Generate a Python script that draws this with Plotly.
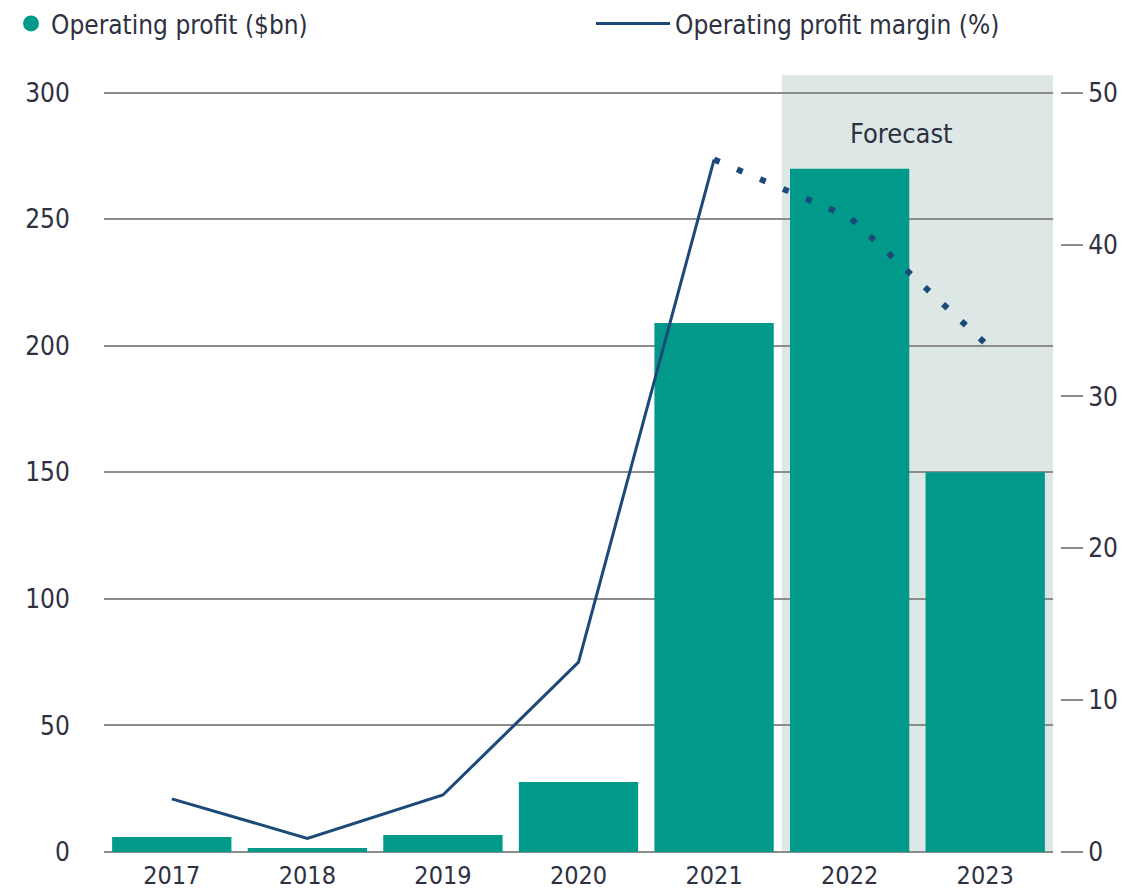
import plotly.graph_objects as go

years = ["2017", "2018", "2019", "2020", "2021", "2022", "2023"]
profit_bn = [5.9, 1.6, 6.7, 27.7, 209, 270, 150]
margin_actual_years = ["2017", "2018", "2019", "2020", "2021"]
margin_actual = [3.5, 0.9, 3.75, 12.5, 45.6]
margin_forecast_years = ["2021", "2022", "2023"]
margin_forecast = [45.6, 41.8, 33.5]
left_ticks = [0, 50, 100, 150, 200, 250, 300]
right_ticks = [0, 10, 20, 30, 40, 50]

TEAL = "#00998a"
NAVY = "#1b4a78"
TXT = "#2d3142"
GRID = "#8c8c8c"
FONT = "Liberation Sans Narrow, DejaVu Sans Condensed, Roboto, sans-serif"
FS = 26

fig = go.Figure()
fig.add_trace(go.Bar(x=years, y=profit_bn, marker=dict(color=TEAL, line=dict(width=0)),
                     showlegend=False, name="Operating profit ($bn)"))
fig.add_trace(go.Scatter(x=[None], y=[None], mode="markers", name="Operating profit ($bn)",
                         legend="legend",
                         marker=dict(color=TEAL, size=18, symbol="circle")))
fig.add_trace(go.Scatter(x=margin_actual_years, y=margin_actual, mode="lines", yaxis="y2",
                         legend="legend2",
                         name="Operating profit margin (%)", line=dict(color=NAVY, width=3)))
fig.add_trace(go.Scatter(x=margin_forecast_years, y=margin_forecast, mode="lines", yaxis="y2",
                         showlegend=False, line=dict(color=NAVY, width=6, dash="6px,19px")))

fig.add_shape(type="rect", xref="x", yref="y", x0=4.5, x1=6.5, y0=0, y1=307,
              fillcolor="#dde8e6", line=dict(width=0), layer="below")
fig.add_annotation(x=5.38, y=284, xref="x", yref="y", text="Forecast", showarrow=False,
                   font=dict(size=27, color=TXT, family=FONT))

fig.update_layout(
    width=1132, height=889,
    margin=dict(l=104, r=79, t=75, b=37),
    plot_bgcolor="white", paper_bgcolor="white",
    font=dict(family=FONT, size=FS, color=TXT),
    bargap=0.12,
    showlegend=True,
    legend=dict(orientation="h", xref="container", yref="container",
                x=11 / 1132, y=1.0, xanchor="left", yanchor="top",
                font=dict(size=FS, color=TXT), itemwidth=30, bgcolor="rgba(0,0,0,0)"),
    legend2=dict(orientation="h", xref="container", yref="container",
                 x=591 / 1132, y=1.0, xanchor="left", yanchor="top",
                 font=dict(size=FS, color=TXT), itemwidth=74, bgcolor="rgba(0,0,0,0)"),
    xaxis=dict(type="category", categoryorder="array", categoryarray=years,
               range=[-0.5, 6.5], showgrid=False, zeroline=False, showline=False,
               ticks="outside", ticklen=1, tickcolor="rgba(0,0,0,0)", automargin=False,
               tickfont=dict(size=25, color=TXT)),
    yaxis=dict(range=[0, 307], tickvals=left_ticks, showgrid=True, gridcolor=GRID,
               gridwidth=1.5, zeroline=True, zerolinecolor=GRID, zerolinewidth=1.5,
               showline=False, ticks="outside", ticklen=28, tickcolor="rgba(0,0,0,0)",
               automargin=False, tickfont=dict(size=FS, color=TXT)),
    yaxis2=dict(range=[0, 307 / 6], tickvals=right_ticks, overlaying="y", side="right",
                anchor="free", position=1, shift=7, autoshift=False, automargin=False,
                showgrid=False, zeroline=False, showline=False,
                ticks="outside", ticklen=22, tickwidth=1.5, tickcolor=GRID,
                tickfont=dict(size=FS, color=TXT)),
)

fig.write_html("out.html", config={"displayModeBar": False},
               post_script="document.body.style.margin='0';document.body.style.overflow='hidden';")
